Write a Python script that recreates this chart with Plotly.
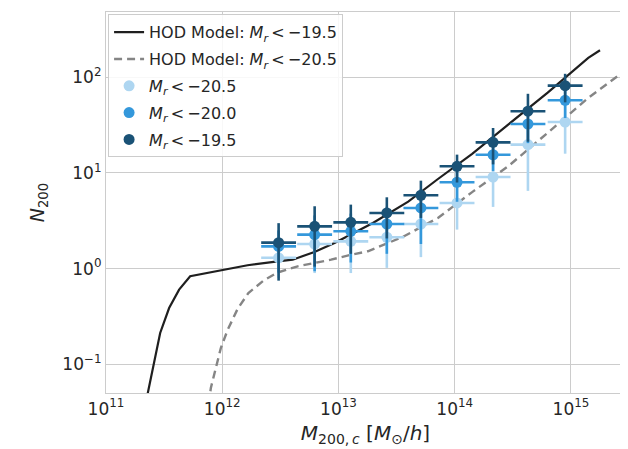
import numpy as np
import plotly.graph_objects as go

# ---- data (log10 values) ----
log_mass_bins = [12.485, 12.795, 13.106, 13.416, 13.709, 14.02, 14.33, 14.63, 14.95]
bin_half_width_dex = 0.15

n_m205 = [1.30, 1.81, 1.93, 2.13, 2.93, 4.86, 9.08, 19.8, 34.1]
e_m205 = [0.50, 0.91, 1.03, 1.11, 1.61, 2.30, 4.66, 13.3, 18.2]

n_m200 = [1.71, 2.27, 2.46, 2.93, 4.31, 8.0, 15.5, 32.5, 57.5]
e_m200 = [0.80, 1.33, 1.30, 1.50, 2.50, 3.0, 5.0, 12.0, 20.0]

n_m195 = [1.87, 2.77, 3.05, 3.82, 5.85, 11.75, 20.9, 44.2, 81.7]
e_m195 = [1.12, 1.72, 1.62, 1.75, 2.46, 3.8, 8.6, 23.0, 27.0]

hod195_logm = [11.30, 11.362, 11.466, 11.543, 11.629, 11.724, 12.017, 12.218, 12.477, 12.606,
               12.793, 12.966, 13.296, 13.60, 13.856, 14.15, 14.46, 14.80, 15.149, 15.25]
hod195_logn = [-1.65, -1.281, -0.672, -0.411, -0.219, -0.079, -0.010, 0.036, 0.077, 0.094,
               0.175, 0.269, 0.478, 0.70, 0.937, 1.20, 1.505, 1.84, 2.202, 2.282]

hod205_logm = [11.87, 11.902, 11.988, 12.046, 12.132, 12.225, 12.362, 12.477, 12.649, 12.936,
               13.109, 13.253, 13.55, 13.856, 14.15, 14.46, 14.80, 15.149, 15.50]
hod205_logn = [-1.55, -1.246, -0.829, -0.641, -0.421, -0.254, -0.118, -0.040, 0.025, 0.094,
               0.146, 0.182, 0.33, 0.53, 0.80, 1.07, 1.42, 1.784, 2.10]

x_tick_exponents = [11, 12, 13, 14, 15]
y_tick_exponents = [-1, 0, 1, 2]
x_range_log = [11.0, 15.465]
y_range_log = [-1.299, 2.682]

# ---- derived ----
mass = 10 ** np.array(log_mass_bins)
xerr_plus = mass * (10 ** bin_half_width_dex - 1)
xerr_minus = mass * (1 - 10 ** (-bin_half_width_dex))

FONT = "DejaVu Sans"
TXT = "#262626"
GRID = "#cccccc"


def lbl(v):
    return "<i>M<sub>r</sub></i>\u2009&lt;\u2009\u2212" + v


def pow_label(e):
    s = str(e).replace("-", "\u2212")
    return "10<sup>" + s + "</sup>"


fig = go.Figure()
fig.add_trace(go.Scatter(
    x=10 ** np.array(hod195_logm), y=10 ** np.array(hod195_logn), mode="lines",
    line=dict(color="#1f1f1f", width=2.2), name="HOD Model: " + lbl("19.5"),
    legendgroup="a"))
fig.add_trace(go.Scatter(
    x=10 ** np.array(hod205_logm), y=10 ** np.array(hod205_logn), mode="lines",
    line=dict(color="#858585", width=2.4, dash="8px,5px"), name="HOD Model: " + lbl("20.5"),
    legendgroup="b"))

for vals, errs, col, name, grp in [
    (n_m205, e_m205, "#aed6f1", lbl("20.5"), "c"),
    (n_m200, e_m200, "#3498db", lbl("20.0"), "d"),
    (n_m195, e_m195, "#1a5276", lbl("19.5"), "e"),
]:
    fig.add_trace(go.Scatter(
        x=mass, y=vals, mode="markers", name=name, legendgroup=grp,
        marker=dict(color=col, size=11, symbol="circle"),
        error_y=dict(type="data", array=errs, color=col, thickness=2.6, width=0),
        error_x=dict(type="data", array=xerr_plus, arrayminus=xerr_minus,
                     color=col, thickness=2.6, width=0),
    ))

axis_common = dict(
    type="log", showgrid=True, gridcolor=GRID,
    gridwidth=1.2, showline=True, linecolor=GRID, linewidth=1.2, mirror=True,
    ticks="", zeroline=False, tickfont=dict(family=FONT, size=17, color=TXT),
)
fig.update_xaxes(**axis_common, range=x_range_log,
                 tickvals=[10.0 ** e for e in x_tick_exponents],
                 ticktext=[pow_label(e) for e in x_tick_exponents],
                 title=dict(text="<i>M</i><sub>200,\u2009<i>c</i></sub> [<i>M</i><sub>\u2299</sub>/<i>h</i>]",
                            font=dict(family=FONT, size=20, color=TXT), standoff=8))
fig.update_yaxes(**axis_common, range=y_range_log,
                 tickvals=[10.0 ** e for e in y_tick_exponents],
                 ticktext=[pow_label(e) for e in y_tick_exponents],
                 title=dict(text="<i>N</i><sub>200</sub>",
                            font=dict(family=FONT, size=19, color=TXT), standoff=12))

fig.update_layout(
    width=628, height=449,
    margin=dict(l=98, r=11, t=4, b=64),
    paper_bgcolor="white", plot_bgcolor="white",
    font=dict(family=FONT, color=TXT),
    legend=dict(x=0.004, y=0.994, xanchor="left", yanchor="top",
                bgcolor="rgba(255,255,255,0.85)", bordercolor=GRID, borderwidth=1,
                font=dict(family=FONT, size=16, color=TXT), tracegroupgap=3,
                itemwidth=30),
)

fig.write_html("out.html")
